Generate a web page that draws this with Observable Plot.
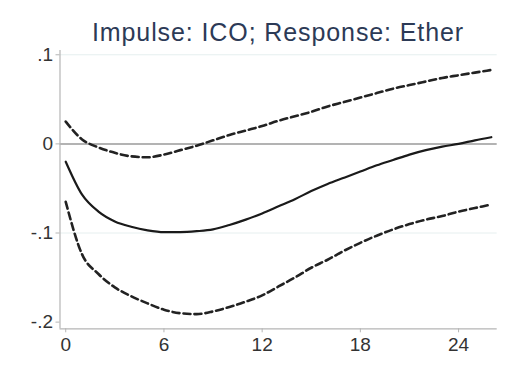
<!DOCTYPE html>
<html>
<head>
<meta charset="utf-8">
<script src="https://cdn.jsdelivr.net/npm/d3@7"></script>
<script src="https://cdn.jsdelivr.net/npm/@observablehq/plot@0.6"></script>
<style>
  html, body { margin: 0; padding: 0; background: #fff; }
  #title {
    box-sizing: border-box;
    height: 38px;
    margin-left: 32px;
    width: 492px;
    padding-top: 20px;
    font: 25px "Liberation Sans", Arial, sans-serif;
    letter-spacing: 0.9px;
    line-height: 25px;
    color: #2c3a56;
    text-align: center;
    white-space: nowrap;
    overflow: visible;
    position: relative;
    z-index: 1;
  }
  #chart svg { display: block; }
</style>
</head>
<body>
<div id="title">Impulse: ICO; Response: Ether</div>
<div id="chart"></div>
<script>
const titleText = "Impulse: ICO; Response: Ether";
const steps = [0,1,2,3,4,5,6,7,8,9,10,11,12,13,14,15,16,17,18,19,20,21,22,23,24,25,26];
const irf = [-0.020,-0.057,-0.076,-0.087,-0.093,-0.097,-0.099,-0.099,-0.098,-0.096,-0.091,-0.085,-0.078,-0.070,-0.062,-0.053,-0.045,-0.038,-0.031,-0.024,-0.018,-0.012,-0.007,-0.003,0.000,0.004,0.0075];
const upper = [0.025,0.005,-0.004,-0.010,-0.014,-0.015,-0.012,-0.007,-0.002,0.004,0.010,0.015,0.020,0.026,0.031,0.036,0.042,0.047,0.052,0.057,0.062,0.066,0.070,0.074,0.077,0.080,0.083];
const lower = [-0.065,-0.124,-0.146,-0.161,-0.171,-0.179,-0.186,-0.190,-0.191,-0.188,-0.183,-0.177,-0.170,-0.160,-0.150,-0.139,-0.130,-0.120,-0.111,-0.103,-0.096,-0.090,-0.085,-0.081,-0.076,-0.072,-0.068];
const xTicks = [0, 6, 12, 18, 24];
const yTicks = [-0.2, -0.1, 0, 0.1];
const gridValues = [-0.1, 0.1];
const xDomain = [-0.35, 26.36];
const yDomain = [-0.2075, 0.1048];

const rows = steps.map((s, i) => ({step: s, irf: irf[i], upper: upper[i], lower: lower[i]}));
const fmt = d => d === 0 ? "0" : String(d).replace("0.", ".");

const chart = Plot.plot({
  width: 524,
  height: 340,
  marginTop: 12,
  marginBottom: 49.7,
  marginLeft: 59.5,
  marginRight: 27.3,
  style: {fontFamily: '"Liberation Sans", Arial, sans-serif', fontSize: "19px", color: "#333", background: "transparent"},
  x: {domain: xDomain},
  y: {domain: yDomain},
  marks: [
    Plot.ruleY(gridValues, {stroke: "#e6efef", strokeWidth: 1}),
    Plot.ruleY([0], {stroke: "#9a9a9a", strokeWidth: 1.5}),
    Plot.ruleX([xDomain[0]], {stroke: "#b5b5b5", strokeWidth: 1.2}),
    Plot.ruleY([yDomain[0]], {stroke: "#b5b5b5", strokeWidth: 1.2}),
    Plot.axisY(yTicks, {tickSize: 4, tickPadding: 3, tickFormat: fmt, stroke: "#b5b5b5", fill: "#333", label: null, fontSize: 19}),
    Plot.axisX(xTicks, {tickSize: 4, tickPadding: 5, tickFormat: d => String(d), stroke: "#b5b5b5", fill: "#333", label: null, fontSize: 19}),
    Plot.line(rows, {x: "step", y: "upper", stroke: "#222", strokeWidth: 2.6, strokeDasharray: "7,4", curve: "monotone-x"}),
    Plot.line(rows, {x: "step", y: "lower", stroke: "#222", strokeWidth: 2.6, strokeDasharray: "7,4", curve: "monotone-x"}),
    Plot.line(rows, {x: "step", y: "irf", stroke: "#1a1a1a", strokeWidth: 2.2, curve: "monotone-x"})
  ]
});
document.getElementById("chart").appendChild(chart);
</script>
</body>
</html>
